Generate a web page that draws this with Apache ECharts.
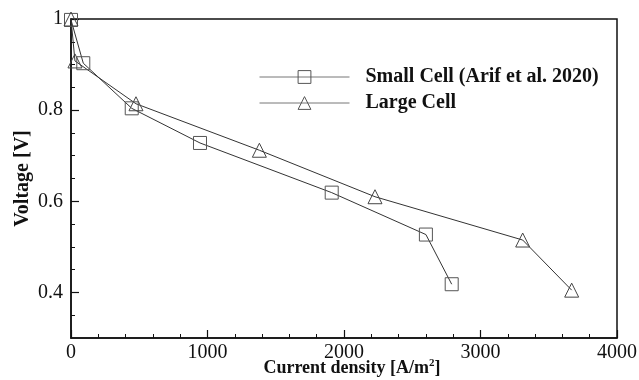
<!DOCTYPE html>
<html>
<head>
<meta charset="utf-8">
<script src="https://cdn.jsdelivr.net/npm/echarts@6/dist/echarts.min.js"></script>
<style>
  html, body { margin: 0; padding: 0; background: #fff; }
  #main { width: 639px; height: 380px; }
</style>
</head>
<body>
<div id="main"></div>
<script>
// polarization curves
var smallX = [0, 90, 445, 945, 1910, 2600, 2789];
var smallY = [0.998, 0.903, 0.804, 0.728, 0.619, 0.527, 0.418];
var largeX = [0, 29, 476, 1380, 2227, 3309, 3668];
var largeY = [1.0, 0.908, 0.814, 0.712, 0.61, 0.515, 0.405];

var yMajor = [0.4, 0.6, 0.8, 1];
var yMinor = [0.35, 0.45, 0.5, 0.55, 0.65, 0.7, 0.75, 0.85, 0.9, 0.95];

var font = 'Liberation Serif';

function pairs(xs, ys) {
  var out = [];
  for (var i = 0; i < xs.length; i++) out.push([xs[i], ys[i]]);
  return out;
}

var myChart = echarts.init(document.getElementById('main'));
myChart.setOption({
  animation: false,
  grid: {
    left: 71, right: 22, top: 19, bottom: 42,
    outerBoundsMode: 'none',
    show: true, borderColor: '#111', borderWidth: 1.5
  },
  legend: {
    orient: 'vertical',
    left: 259, top: 67,
    padding: 0,
    itemWidth: 90, itemHeight: 16,
    itemGap: 6,
    lineStyle: { color: '#777', width: 1 },
    itemStyle: { borderColor: '#555', borderWidth: 1 },
    textStyle: { fontFamily: font, fontWeight: 'bold', fontSize: 20, color: '#111', padding: [0, 0, 0, 11] },
    data: ['Small Cell (Arif et al. 2020)', 'Large Cell']
  },
  xAxis: {
    type: 'value',
    min: 0, max: 4000, interval: 1000,
    name: 'Current density [A/m{sup|2}]',
    nameLocation: 'middle',
    nameGap: 20,
    nameMoveOverlap: false,
    nameTextStyle: {
      fontFamily: font, fontWeight: 'bold', fontSize: 18, color: '#111', padding: [0, 0, 0, 16],
      rich: { sup: { fontFamily: font, fontWeight: 'bold', fontSize: 11, color: '#111', padding: [0, 0, 9, 0] } }
    },
    axisLine: { lineStyle: { color: '#111', width: 1.5 } },
    axisTick: { inside: true, length: 8, lineStyle: { color: '#111', width: 1.2 } },
    minorTick: { show: true, splitNumber: 5, length: 4, lineStyle: { color: '#111', width: 1 } },
    axisLabel: { fontFamily: font, fontSize: 20, color: '#111', margin: 5, formatter: function (v) { return String(v); } },
    splitLine: { show: false }
  },
  yAxis: [{
    type: 'value',
    min: 0.3, max: 1,
    name: 'Voltage [V]',
    nameLocation: 'middle',
    nameGap: 38,
    nameRotate: 90,
    nameMoveOverlap: false,
    nameTextStyle: { fontFamily: font, fontWeight: 'bold', fontSize: 20, color: '#111' },
    axisLine: { lineStyle: { color: '#111', width: 1.5 } },
    axisTick: { inside: true, length: 8, customValues: yMajor, lineStyle: { color: '#111', width: 1.2 } },
    axisLabel: {
      fontFamily: font, fontSize: 20, color: '#111', margin: 8, customValues: yMajor,
      formatter: function (v) { return v === 1 ? '1' : v.toFixed(1); }
    },
    splitLine: { show: false }
  }, {
    type: 'value',
    min: 0.3, max: 1,
    position: 'left',
    axisLine: { show: false },
    axisTick: { inside: true, length: 4, customValues: yMinor, lineStyle: { color: '#111', width: 1 } },
    axisLabel: { show: false },
    splitLine: { show: false }
  }],
  series: [{
    name: 'Small Cell (Arif et al. 2020)',
    type: 'line',
    data: pairs(smallX, smallY),
    symbol: 'rect',
    symbolSize: 13,
    itemStyle: { color: 'rgba(255,255,255,0)', borderColor: '#555', borderWidth: 1 },
    lineStyle: { color: '#333', width: 1 },
    z: 3
  }, {
    name: 'Large Cell',
    type: 'line',
    data: pairs(largeX, largeY),
    symbol: 'triangle',
    symbolSize: 14,
    itemStyle: { color: 'rgba(255,255,255,0)', borderColor: '#444', borderWidth: 1 },
    lineStyle: { color: '#333', width: 1 },
    z: 3
  }]
});
</script>
</body>
</html>
